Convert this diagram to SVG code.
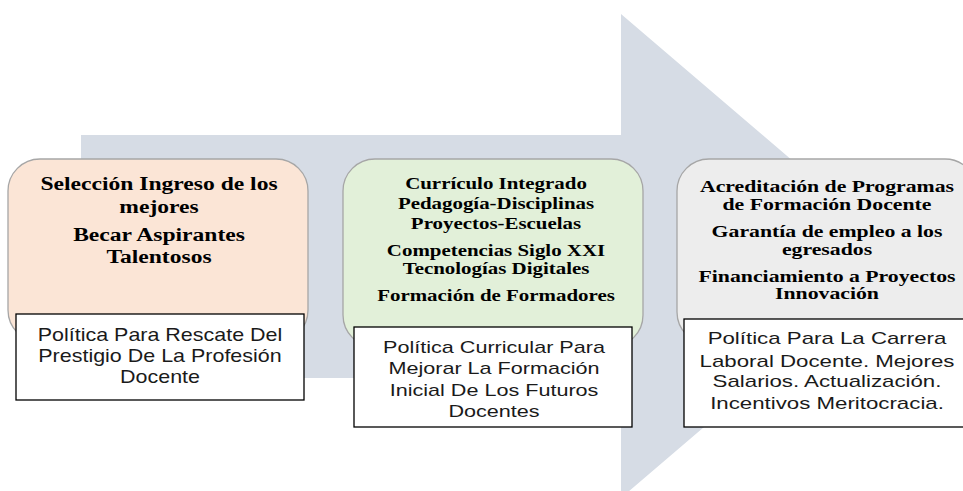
<svg xmlns="http://www.w3.org/2000/svg" width="963" height="491" viewBox="0 0 963 491">
<style>
.round{stroke:#a6a6a6;stroke-width:1.3}
.lab{fill:#fff;stroke:#000;stroke-width:1.3}
.t{font-family:"Liberation Serif",serif;font-weight:bold;fill:#000;text-anchor:middle}
.s{font-family:"Liberation Sans",Arial,sans-serif;fill:#1a1a1a;text-anchor:middle}
</style>
<g id="connectors">
<path id="arrow" d="M81 135 H621 V14 L904 256 L621 498 V378 H81 Z" fill="#d6dce5"/>
</g>
<g id="node1">
<rect class="round" x="8" y="159" width="300" height="183" rx="32" fill="#fbe5d6"/>
<g transform="translate(159 0) scale(1.31 1)">
<text class="t" font-size="18" x="0" y="190">Selección Ingreso de los</text>
<text class="t" font-size="18" x="0" y="213">mejores</text>
<text class="t" font-size="18" x="0" y="241">Becar Aspirantes</text>
<text class="t" font-size="18" x="0" y="263">Talentosos</text>
</g>
<rect class="lab" x="16" y="314" width="288" height="86"/>
<g transform="translate(160 0) scale(1.13 1)">
<text class="s" font-size="19" x="0" y="341">Política Para Rescate Del</text>
<text class="s" font-size="19" x="0" y="362">Prestigio De La Profesión</text>
<text class="s" font-size="19" x="0" y="383">Docente</text>
</g>
</g>
<g id="node2">
<rect class="round" x="343" y="159" width="300" height="188" rx="32" fill="#e2f0d9"/>
<g transform="translate(496 0) scale(1.23 1)">
<text class="t" font-size="17" x="0" y="189">Currículo Integrado</text>
<text class="t" font-size="17" x="0" y="209">Pedagogía-Disciplinas</text>
<text class="t" font-size="17" x="0" y="229">Proyectos-Escuelas</text>
<text class="t" font-size="17" x="0" y="256">Competencias Siglo XXI</text>
<text class="t" font-size="17" x="0" y="274">Tecnologías Digitales</text>
<text class="t" font-size="17" x="0" y="301">Formación de Formadores</text>
</g>
<rect class="lab" x="354" y="327" width="278" height="100"/>
<g transform="translate(494 0) scale(1.27 1)">
<text class="s" font-size="17" x="0" y="353">Política Curricular Para</text>
<text class="s" font-size="17" x="0" y="374">Mejorar La Formación</text>
<text class="s" font-size="17" x="0" y="396">Inicial De Los Futuros</text>
<text class="s" font-size="17" x="0" y="417">Docentes</text>
</g>
</g>
<g id="node3">
<rect class="round" x="677" y="159" width="300" height="185" rx="32" fill="#ededed"/>
<g transform="translate(827 0) scale(1.28 1)">
<text class="t" font-size="17" x="0" y="192">Acreditación de Programas</text>
<text class="t" font-size="17" x="0" y="210">de Formación Docente</text>
<text class="t" font-size="17" x="0" y="237">Garantía de empleo a los</text>
<text class="t" font-size="17" x="0" y="255">egresados</text>
<text class="t" font-size="17" x="0" y="282">Financiamiento a Proyectos</text>
<text class="t" font-size="17" x="0" y="299">Innovación</text>
</g>
<rect class="lab" x="684" y="319" width="284" height="108"/>
<g transform="translate(827 0) scale(1.31 1)">
<text class="s" font-size="17" x="0" y="344">Política Para La Carrera</text>
<text class="s" font-size="17" x="0" y="367">Laboral Docente. Mejores</text>
<text class="s" font-size="17" x="0" y="387">Salarios. Actualización.</text>
<text class="s" font-size="17" x="0" y="409">Incentivos Meritocracia.</text>
</g>
</g>
</svg>
